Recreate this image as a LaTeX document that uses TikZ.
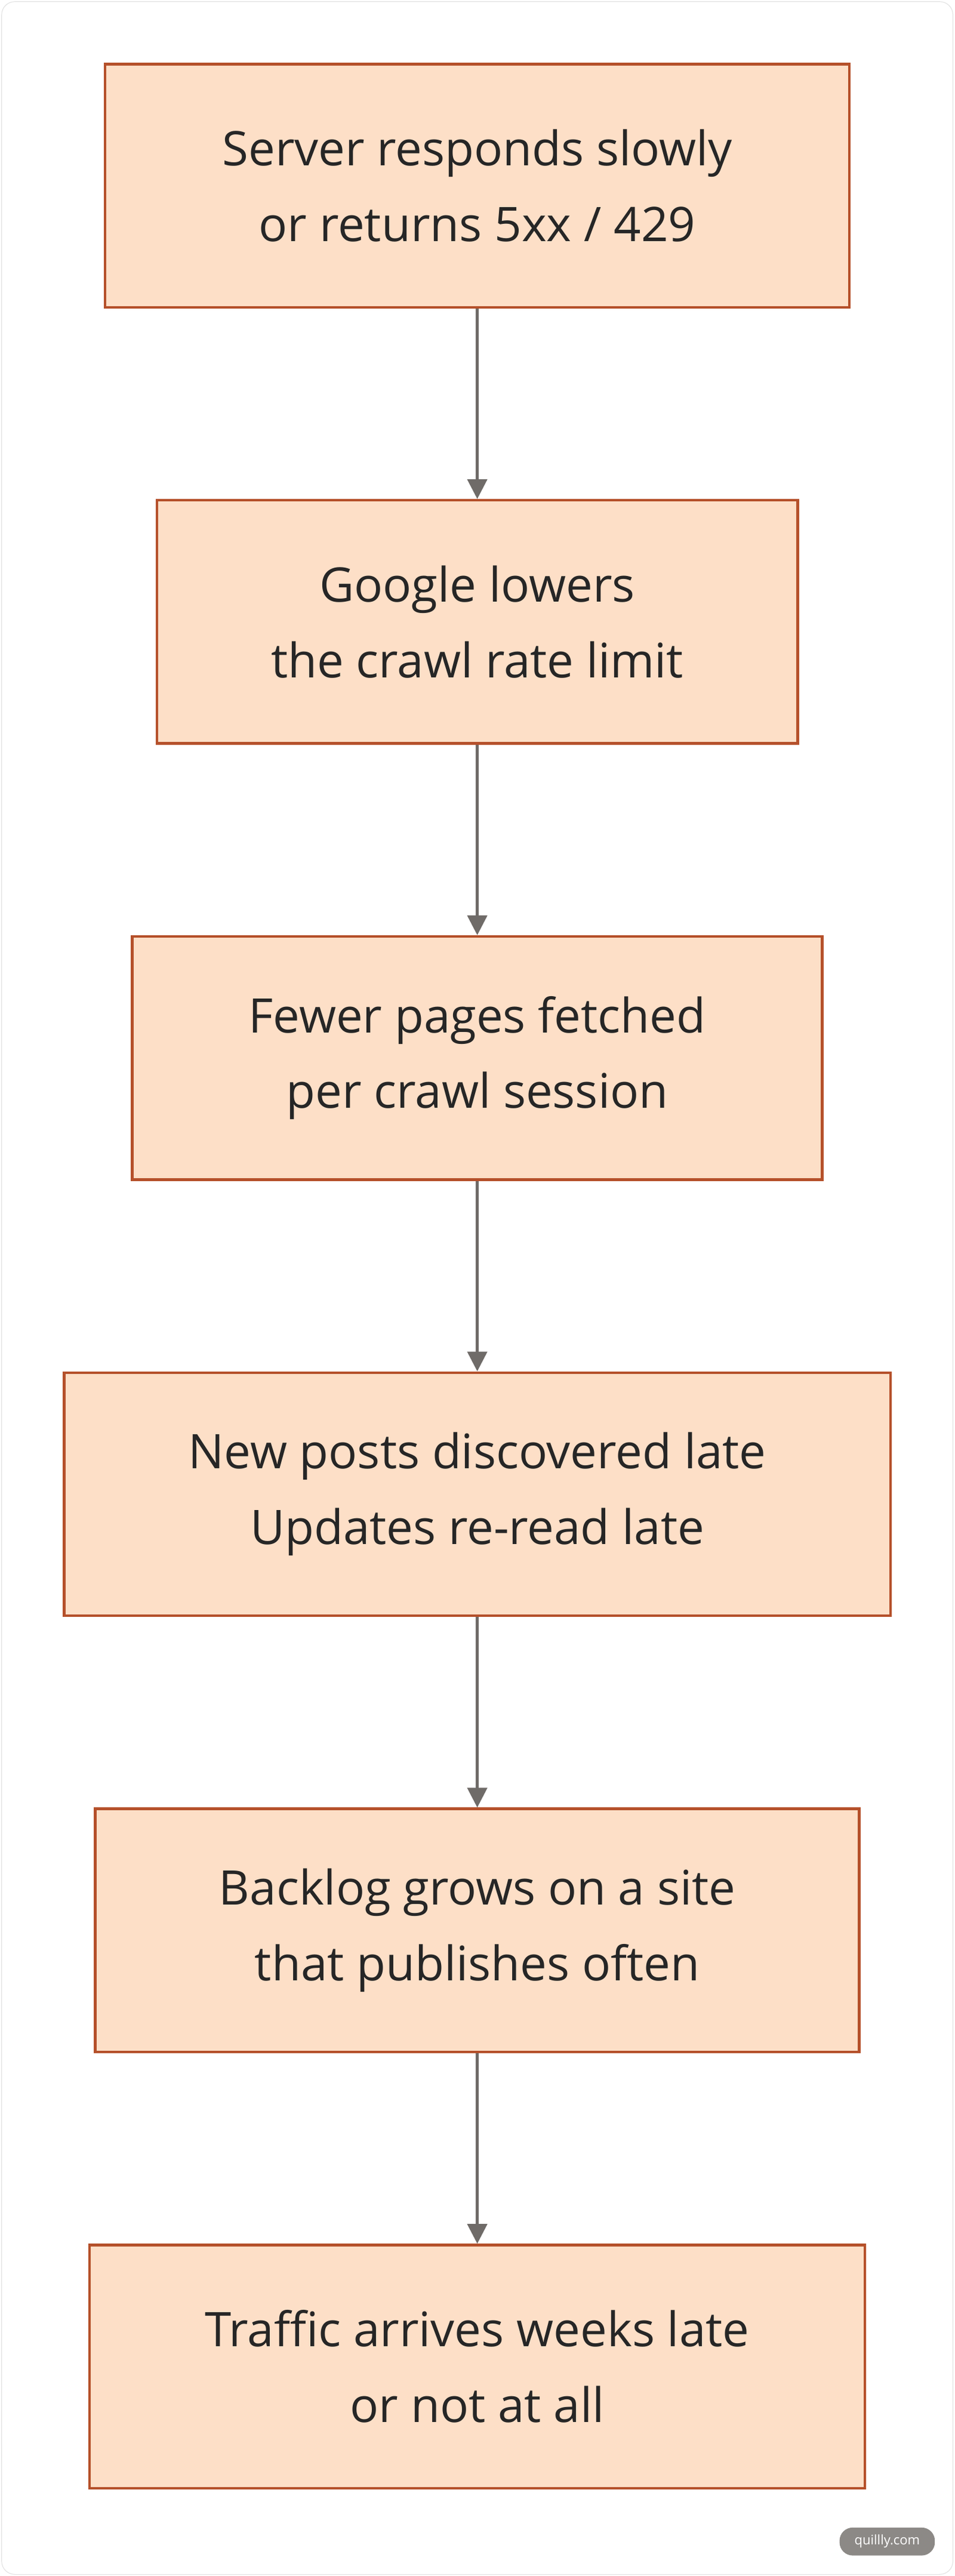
\documentclass[tikz,border=0pt]{standalone}
\usepackage{fontspec}
\setmainfont{Open Sans}
\usetikzlibrary{positioning, arrows.meta}
\definecolor{mfill}{HTML}{FDDFC7}
\definecolor{mline}{HTML}{B5502A}
\definecolor{mgray}{HTML}{6F6B68}
\definecolor{mframe}{HTML}{E2E2E2}
\tikzstyle{stage} = [rectangle, minimum height = 148pt, text centered, align=center, fill = mfill, draw = mline, line width=1.6pt, font=\fontsize{29}{46}\selectfont, text=black!85]
\tikzstyle{link} = [line width=1.6pt, draw=mgray, -{Triangle[width=12pt,length=12pt]}]

\begin{document}
\begin{tikzpicture}[x=1pt, y=-1pt]
  \useasboundingbox (0,0) rectangle (581,1568);
  \draw [mframe, fill=white, rounded corners=8pt] (1,1) rectangle (580,1567);
  \node (slow) [stage, minimum width=453pt] at (290.5,113) {Server responds slowly\\or returns 5xx / 429};
  \node (lower) [stage, minimum width=390pt] at (290.5,378.5) {Google lowers\\the crawl rate limit};
  \node (fewer) [stage, minimum width=420pt] at (290.5,644) {Fewer pages fetched\\per crawl session};
  \node (late) [stage, minimum width=503pt] at (290.5,909.5) {New posts discovered late\\Updates re-read late};
  \node (backlog) [stage, minimum width=465pt] at (290.5,1175) {Backlog grows on a site\\that publishes often};
  \node (traffic) [stage, minimum width=472pt] at (290.5,1440.5) {Traffic arrives weeks late\\or not at all};
  \draw [link] (slow) -- (lower);
  \draw [link] (lower) -- (fewer);
  \draw [link] (fewer) -- (late);
  \draw [link] (late) -- (backlog);
  \draw [link] (backlog) -- (traffic);
  \node (mark) [fill=mgray!80, text=white, rounded corners=8pt, minimum width=58pt, minimum height=17pt, font=\fontsize{8}{8}\selectfont] at (540,1547) {quillly.com};
\end{tikzpicture}
\end{document}
